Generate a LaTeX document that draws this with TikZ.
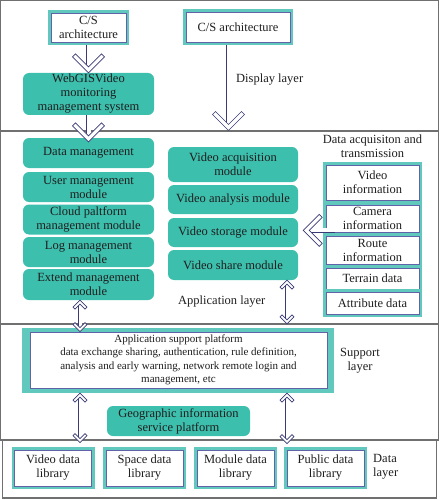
\documentclass[tikz,border=0pt]{standalone}
\usepackage{fontspec}
\setmainfont{Liberation Serif}
\definecolor{tealfill}{RGB}{61, 191, 173}
\definecolor{tealframe}{RGB}{96, 200, 188}
\definecolor{boxline}{RGB}{98, 98, 168}
\definecolor{arrowblue}{RGB}{58, 58, 118}
\definecolor{layergray}{RGB}{112, 112, 112}
\definecolor{textdark}{RGB}{30, 30, 30}
\usetikzlibrary{calc, decorations.markings}

\newcommand{\bigchevron}{\draw[arrowblue, line width=0.7pt, fill=white] (0pt,0pt) -- (-16pt,16pt) -- (-19pt,13pt) -- (-6pt,0pt) -- (-19pt,-13pt) -- (-16pt,-16pt) -- cycle;}
\newcommand{\smallchevron}{\draw[arrowblue, line width=0.7pt, fill=white] (0pt,0pt) -- (-7pt,7pt) -- (-9pt,5pt) -- (-4pt,0pt) -- (-9pt,-5pt) -- (-7pt,-7pt) -- cycle;}

\tikzset{
  module/.style={fill=tealfill, rounded corners=6pt, inner sep=0pt, align=center, minimum width=131pt},
  framed/.style={preaction={draw=tealframe, line width=6pt}, draw=boxline, line width=0.6pt, fill=white, inner sep=0pt, align=center},
  layer/.style={draw=layergray, line width=1.2pt},
  layertext/.style={inner sep=0pt, align=center},
  hollow/.style={
    postaction={draw=arrowblue, line width=0.7pt, double=white, double distance=4pt, shorten >=6pt},
    postaction={decorate, decoration={markings, mark=at position 1 with {\bigchevron}}}},
  hollow both/.style={
    postaction={draw=arrowblue, line width=0.7pt, double=white, double distance=3pt, shorten >=4pt, shorten <=4pt},
    postaction={decorate, decoration={markings,
      mark=at position 0 with {\begin{scope}[xscale=-1]\smallchevron\end{scope}},
      mark=at position 1 with {\smallchevron}}}}
}

\begin{document}
\begin{tikzpicture}[x=1pt, y=-1pt, font=\fontsize{12.5}{14}\selectfont, text=textdark]
  \useasboundingbox (0,0) rectangle (439,500);

  % Layer frames
  \draw[layer] (0.6,0.6) rectangle (438.4,131);
  \draw[layer] (0.6,131) rectangle (438.4,324);
  \draw[layer] (0.6,324) rectangle (438.4,440);
  \draw[layer] (2.5,440) rectangle (436.5,498);

  % Display layer
  \node[framed, minimum width=75pt, minimum height=29pt] (cs1) at (88.5,27.5) {C/S\\architecture};
  \node[framed, minimum width=104pt, minimum height=30pt] (cs2) at (238,27) {C/S architecture};
  \node[module, minimum height=42pt] (web) at (88.5,94) {WebGISVideo\\monitoring\\management system};
  \node[layertext, anchor=west] (disp) at (236,80) {Display layer};
  \coordinate (disptip) at (228.5,130.5);

  % Application layer, management modules
  \node[module, minimum height=30pt] (dm) at (88.5,153) {Data management};
  \node[module, minimum height=30pt] (user) at (88.5,187) {User management\\module};
  \node[module, minimum height=30pt] (cloud) at (88.5,219.5) {Cloud paltform\\management module};
  \node[module, minimum height=30pt] (log) at (88.5,252) {Log management\\module};
  \node[module, minimum height=31pt] (ext) at (88.5,284.5) {Extend management\\module};

  % Video modules
  \node[module, minimum width=130pt, minimum height=35pt] (vacq) at (233,164.5) {Video acquisition\\module};
  \node[module, minimum width=130pt, minimum height=29pt] (vana) at (233,199.5) {Video analysis module};
  \node[module, minimum width=130pt, minimum height=29pt] (vsto) at (233,232.5) {Video storage module};
  \node[module, minimum width=130pt, minimum height=30pt] (vsha) at (233,265) {Video share module};
  \node[layertext, anchor=west] (app) at (178,302) {Application layer};

  % Data acquisition
  \node[layertext] (acq) at (372.5,146.5) {Data acquisiton and\\transmission};
  \node[framed, minimum width=93pt, minimum height=35pt] (vinfo) at (372.5,182.5) {Video\\information};
  \node[framed, minimum width=93pt, minimum height=27pt] (cinfo) at (372.5,218.5) {Camera\\information};
  \node[framed, minimum width=93pt, minimum height=28pt] (rinfo) at (372.5,250) {Route\\information};
  \node[framed, minimum width=93pt, minimum height=21pt] (terr) at (372.5,278.5) {Terrain data};
  \node[framed, minimum width=93pt, minimum height=22pt] (attr) at (372.5,303) {Attribute data};
  \coordinate (camtail) at ($(cinfo.south west)+(9,-2)$);
  \coordinate (stotip) at ($(vsto.east |- camtail)+(5,0)$);

  % Support layer
  \node[fill=tealframe, minimum width=312pt, minimum height=65pt, inner sep=0pt] (aspf) at (178,360.5) {};
  \node[draw=boxline, line width=0.6pt, fill=white, minimum width=297pt, minimum height=56pt, align=center, inner sep=0pt, font=\fontsize{11}{13.5}\selectfont] (asp) at (178.5,360) {
    Application support platform\\
    data exchange sharing, authentication, rule definition,\\
    analysis and early warning, network remote login and\\
    management, etc
  };
  \node[layertext] (sup) at (360,360.5) {Support\\layer};
  \node[module, minimum width=143pt, minimum height=30pt] (geo) at (178.5,421) {Geographic information\\service platform};

  % Data layer
  \node[framed, minimum width=77pt, minimum height=36pt] (vlib) at (53,468) {Video data\\library};
  \node[framed, minimum width=77pt, minimum height=36pt] (slib) at (144.5,468) {Space data\\library};
  \node[framed, minimum width=77pt, minimum height=36pt] (mlib) at (235.5,468) {Module data\\library};
  \node[framed, minimum width=77pt, minimum height=36pt] (plib) at (325.5,468) {Public data\\library};
  \node[layertext, anchor=west, align=left] (datal) at (373,467) {Data\\layer};

  % Hollow arrows
  \coordinate (colL) at (80,0);
  \coordinate (colR) at (287,0);
  \path[hollow] ([yshift=-3pt]cs1.south) -- (web.north);
  \path[hollow] (web.south) -- ([yshift=-4pt]dm.north);
  \path[hollow] ([xshift=-9.5pt,yshift=-3pt]cs2.south) -- (disptip);
  \path[hollow] (camtail) -- (stotip);
  \path[hollow both] (ext.south -| colL) -- (asp.north -| colL);
  \path[hollow both] (vsha.south -| colR) -- ($(aspf.north -| colR)+(0,-4)$);
  \path[hollow both] (aspf.south -| colL) -- ($(vlib.north -| colL)+(0,-7)$);
  \path[hollow both] (aspf.south -| colR) -- ($(plib.north -| colR)+(0,-6)$);
\end{tikzpicture}
\end{document}
